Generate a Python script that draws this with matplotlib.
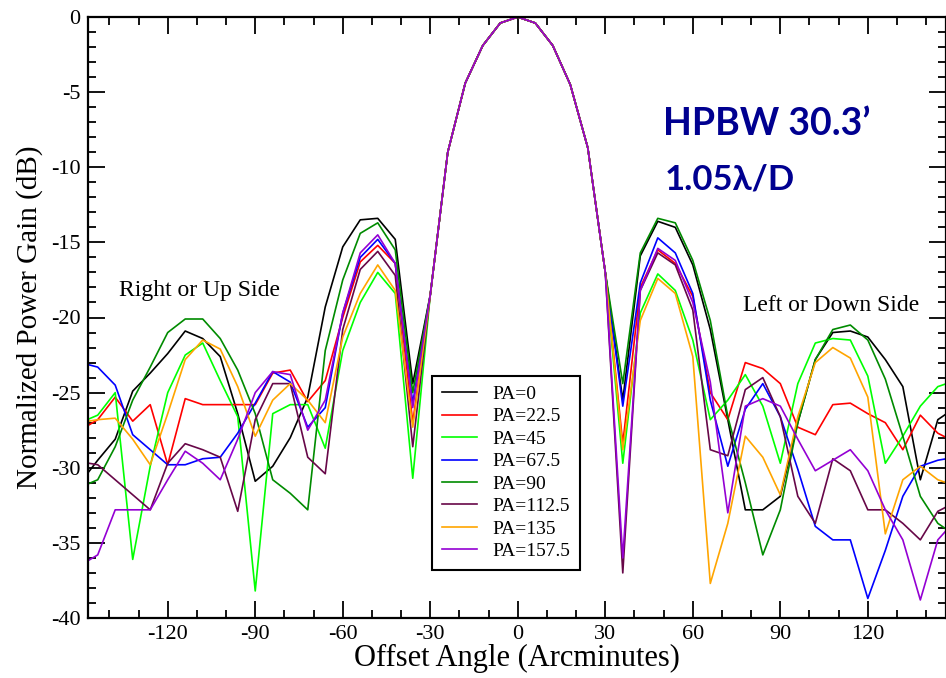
import matplotlib
matplotlib.use("Agg")
import matplotlib.pyplot as plt
import numpy as np

plt.rcParams['font.family'] = ['Liberation Serif', 'DejaVu Serif']
plt.rcParams['axes.unicode_minus'] = False

# offset angles, 6 arcmin steps
offset = np.arange(-150, 151, 6)

# main beam, same for every cut (-30 .. +30)
main_lobe = [-18.5, -9.0, -4.4, -1.9, -0.4, 0.0, -0.4, -1.9, -4.5, -8.7, -17.0]

# left wing: -150 .. -36, right wing: 36 .. 150
pa0_left = [-31.0, -29.5, -28.1, -24.9, -23.7, -22.4, -20.9, -21.4, -22.6, -26.4,
            -30.9, -29.9, -28.0, -25.3, -19.3, -15.3, -13.5, -13.4, -14.8, -24.4]
pa0_right = [-25.5, -15.9, -13.6, -14.0, -16.5, -20.8, -26.8, -32.8, -32.8, -31.9,
             -27.0, -22.8, -21.0, -20.9, -21.3, -22.8, -24.6, -30.8, -26.8, -26.0]

pa22_left = [-27.5, -26.8, -25.3, -26.9, -25.8, -29.8, -25.4, -25.8, -25.8, -25.8,
             -25.8, -23.7, -23.5, -25.6, -24.2, -20.0, -16.3, -15.2, -16.4, -27.0]
pa22_right = [-28.4, -18.0, -15.5, -16.4, -18.6, -25.0, -26.8, -23.0, -23.4, -24.4,
              -27.3, -27.8, -25.8, -25.7, -26.4, -27.0, -28.8, -26.5, -27.7, -28.3]

pa45_left = [-27.0, -26.5, -25.0, -36.1, -29.9, -25.0, -22.5, -21.7, -24.2, -26.6,
             -38.2, -26.4, -25.8, -25.8, -28.7, -22.2, -19.0, -17.0, -18.4, -30.7]
pa45_right = [-29.7, -19.7, -17.1, -18.2, -21.5, -26.8, -25.5, -23.8, -25.9, -29.7,
              -24.4, -21.7, -21.4, -21.5, -23.9, -29.7, -27.9, -25.9, -24.6, -24.2]

pa67_left = [-23.0, -23.3, -24.5, -27.8, -28.8, -29.8, -29.8, -29.4, -29.3, -27.7,
             -25.7, -23.6, -24.3, -27.3, -26.0, -19.7, -16.0, -14.8, -16.4, -25.7]
pa67_right = [-25.9, -17.7, -14.7, -15.7, -18.4, -25.5, -29.9, -26.1, -24.4, -26.6,
              -30.1, -33.9, -34.8, -34.8, -38.7, -35.5, -31.9, -29.9, -29.5, -29.3]

pa90_left = [-31.3, -30.8, -28.6, -25.5, -23.3, -21.0, -20.1, -20.1, -21.4, -23.5,
             -26.4, -30.8, -31.7, -32.8, -22.2, -17.5, -14.4, -13.7, -15.5, -25.0]
pa90_right = [-24.4, -15.7, -13.4, -13.7, -16.2, -20.2, -26.6, -31.0, -35.8, -32.8,
              -27.0, -22.8, -20.8, -20.5, -21.5, -24.1, -27.9, -31.9, -33.7, -34.5]

pa112_left = [-29.6, -29.8, -30.8, -31.8, -32.8, -29.7, -28.4, -28.8, -29.3, -32.9,
              -26.8, -24.4, -24.4, -29.3, -30.4, -20.8, -16.8, -15.6, -17.2, -28.6]
pa112_right = [-37.0, -18.2, -15.7, -16.5, -19.5, -28.8, -29.2, -24.8, -24.0, -26.6,
               -31.9, -33.7, -29.4, -30.2, -32.8, -32.8, -33.7, -34.8, -32.9, -32.3]

pa135_left = [-27.0, -26.8, -26.7, -28.1, -29.8, -26.4, -22.8, -21.5, -22.1, -24.6,
              -27.9, -25.5, -24.4, -25.5, -27.0, -21.3, -18.4, -16.5, -18.2, -27.3]
pa135_right = [-28.8, -20.2, -17.4, -18.4, -22.6, -37.7, -33.7, -27.9, -29.3, -31.8,
               -26.6, -23.0, -22.0, -22.7, -25.3, -34.4, -30.8, -29.9, -30.8, -31.2]

pa157_left = [-36.5, -35.8, -32.8, -32.8, -32.8, -30.8, -28.9, -29.7, -30.8, -28.1,
              -25.0, -23.6, -23.8, -27.5, -25.5, -19.7, -15.7, -14.5, -16.4, -26.0]
pa157_right = [-36.0, -18.2, -15.4, -16.2, -19.0, -24.3, -33.0, -25.9, -25.4, -25.9,
               -28.1, -30.2, -29.5, -28.8, -30.2, -32.8, -34.8, -38.8, -34.8, -33.5]

labels = ['PA=0', 'PA=22.5', 'PA=45', 'PA=67.5', 'PA=90', 'PA=112.5', 'PA=135', 'PA=157.5']
colors = ['#000000', '#ff0000', '#00ff00', '#0000ff', '#008b00', '#670748', '#ffa500', '#9400d3']
wings = [(pa0_left, pa0_right), (pa22_left, pa22_right), (pa45_left, pa45_right),
         (pa67_left, pa67_right), (pa90_left, pa90_right), (pa112_left, pa112_right),
         (pa135_left, pa135_right), (pa157_left, pa157_right)]

fig = plt.figure(figsize=(9.46, 6.78), dpi=100)
ax = fig.add_axes([87.5 / 946, 60 / 678, (946 - 87.5) / 946, 601 / 678])

for (lw, rw), lab, col in zip(wings, labels, colors):
    gain = np.concatenate([lw, main_lobe, rw])
    ax.plot(offset, gain, color=col, lw=1.2, label=lab)

ax.set_xlim(-147.5, 146.8)
ax.set_ylim(-40, 0)
ax.set_xticks(np.arange(-120, 121, 30))
ax.set_xticks(np.arange(-140, 141, 10), minor=True)
ax.set_yticks(np.arange(-40, 1, 5))
ax.set_yticks(np.arange(-40, 1, 1), minor=True)
ax.tick_params(which='both', direction='in', top=True, right=True, width=1.3,
               labelsize=16, pad=5)
ax.tick_params(which='major', length=12)
ax.tick_params(which='minor', length=6)
for s in ax.spines.values():
    s.set_linewidth(1.6)

ax.set_xlabel('Offset Angle (Arcminutes)', fontsize=22, labelpad=0)
ax.set_ylabel('Normalized Power Gain (dB)', fontsize=21)
ax.yaxis.set_label_coords(-0.052, 0.5)

ax.text(-109, -18.6, 'Right or Up Side', fontsize=17, ha='center', va='baseline')
ax.text(107.5, -19.6, 'Left or Down Side', fontsize=17, ha='center', va='baseline')

ax.text(49.8, -7.1, 'HPBW 30.3\u2019', fontsize=27, fontweight='bold', color='#000090',
        family=['Lato', 'DejaVu Sans'], ha='left', va='center')
ax.text(50.5, -10.8, '1.05\u03bb/D', fontsize=25, fontweight='bold', color='#000090',
        family=['Lato', 'DejaVu Sans'], ha='left', va='center')

leg = ax.legend(loc='lower left', bbox_to_anchor=(0.4013, 0.08), borderaxespad=0,
                fontsize=14, fancybox=False, framealpha=1, edgecolor='black',
                handlelength=1.8, labelspacing=0.25, borderpad=0.5, handletextpad=0.8)
leg.get_frame().set_linewidth(1.5)

fig.savefig('out.png', dpi=100)
